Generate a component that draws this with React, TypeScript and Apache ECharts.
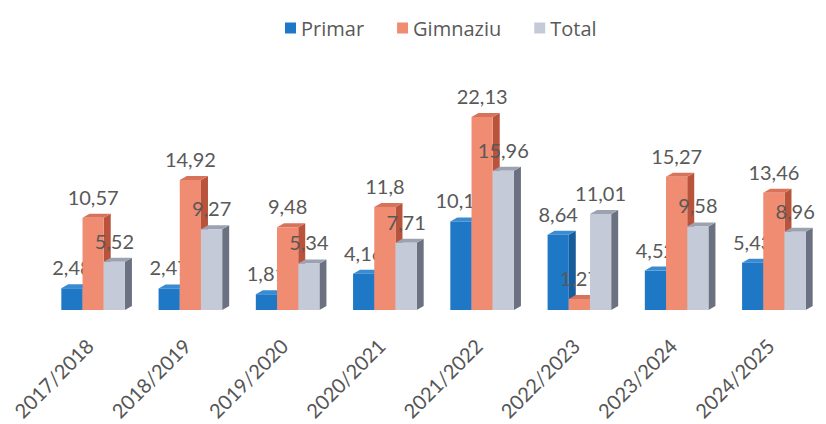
import React, { useEffect, useRef } from "react";
import * as echarts from "echarts";

const categories = ["2017/2018", "2018/2019", "2019/2020", "2020/2021", "2021/2022", "2022/2023", "2023/2024", "2024/2025"];
const primar = [2.48, 2.47, 1.81, 4.16, 10.16, 8.64, 4.52, 5.43];
const gimnaziu = [10.57, 14.92, 9.48, 11.8, 22.13, 1.27, 15.27, 13.46];
const total = [5.52, 9.27, 5.34, 7.71, 15.96, 11.01, 9.58, 8.96];
const seriesNames = ["Primar", "Gimnaziu", "Total"];

const palettes = [
  { front: "#1f78c6", side: "#175d9c", top: "#3a8bd2" },
  { front: "#ef8c72", side: "#b9533c", top: "#d8735b" },
  { front: "#c4cad7", side: "#6b7180", top: "#9ca2b0" },
];

const fmt = (v: number) => String(v).replace(".", ",");

function makeRender(idx: number) {
  const pal = palettes[idx];
  return (params: any, api: any) => {
    const c = api.value(0);
    const v = api.value(1);
    const base = api.coord([c, 0]);
    const topPt = api.coord([c, v]);
    const cx = base[0];
    const yb = base[1];
    const yt = topPt[1];
    const band = api.size([1, 0])[0];
    const w = band * 0.218;
    const dx = 7;
    const dy = 4;
    const x0 = cx - dx / 2 + (idx - 1.5) * w;
    return {
      type: "group",
      children: [
        {
          type: "polygon",
          shape: { points: [[x0 + w, yt], [x0 + w + dx, yt - dy], [x0 + w + dx, yb - dy], [x0 + w, yb]] },
          style: { fill: pal.side },
        },
        {
          type: "polygon",
          shape: { points: [[x0, yt], [x0 + dx, yt - dy], [x0 + w + dx, yt - dy], [x0 + w, yt]] },
          style: { fill: pal.top },
        },
        {
          type: "rect",
          shape: { x: x0, y: yt, width: w, height: yb - yt },
          style: { fill: pal.front },
        },
        {
          type: "text",
          x: x0 + w / 2,
          y: yt - 21,
          style: {
            text: fmt(v),
            fill: "#595959",
            fontSize: 20,
            fontFamily: "Lato",
            align: "center",
            verticalAlign: "middle",
          },
        },
      ],
    };
  };
}

export default function App() {
  const ref = useRef<HTMLDivElement>(null);
  useEffect(() => {
    document.body.style.margin = "0";
    const chart = echarts.init(ref.current!, undefined, { renderer: "svg" });
    const all = [primar, gimnaziu, total];
    chart.setOption({
      animation: false,
      backgroundColor: "#ffffff",
      legend: {
        data: seriesNames,
        top: 13,
        left: 280,
        icon: "rect",
        itemWidth: 11,
        itemHeight: 11,
        itemGap: 33,
        textStyle: { fontSize: 20, color: "#595959", fontFamily: "Open Sans" },
      },
      grid: { left: 48, width: 788, top: 92, bottom: 114, containLabel: false },
      xAxis: {
        type: "category",
        data: categories,
        axisLine: { show: false },
        axisTick: { show: false },
        axisLabel: {
          rotate: 45,
          margin: 25,
          padding: [0, 10, 0, 0],
          fontSize: 20,
          fontFamily: "Lato",
          color: "#555555",
          interval: 0,
        },
      },
      yAxis: { type: "value", min: 0, max: 25, show: false },
      series: all.map((arr, i) => ({
        name: seriesNames[i],
        type: "custom",
        z: 2 + i,
        itemStyle: { color: palettes[i].front },
        encode: { x: 0, y: 1 },
        data: arr.map((v, k) => [k, v]),
        renderItem: makeRender(i),
        clip: false,
      })),
    });
    return () => chart.dispose();
  }, []);
  return <div ref={ref} style={{ width: 826, height: 424 }} />;
}
